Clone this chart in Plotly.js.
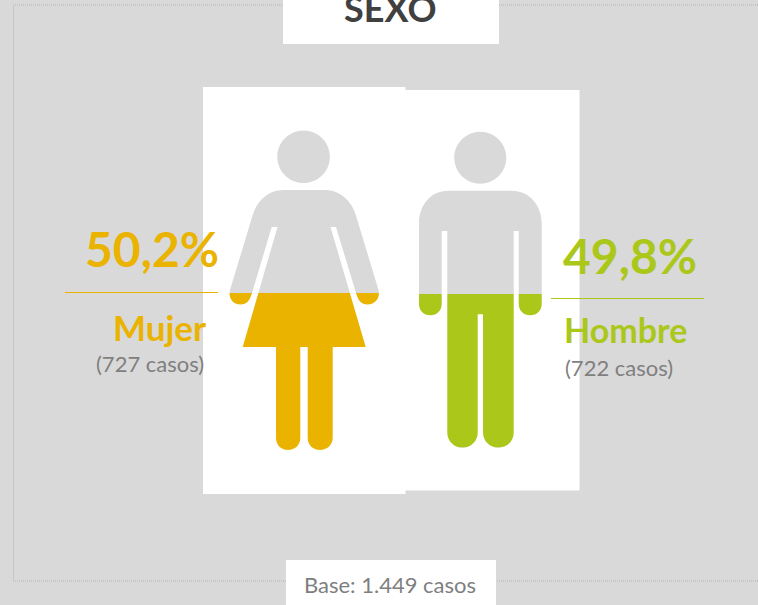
<!DOCTYPE html>
<html>
<head>
<meta charset="utf-8">
<script src="https://cdn.plot.ly/plotly-3.0.1.min.js"></script>
<style>html,body{margin:0;padding:0;background:#d9d9d9;overflow:hidden}</style>
</head>
<body>
<div id="chart" style="width:758px;height:605px"></div>
<script>
// ---- data ----
const categories = ['Mujer', 'Hombre'];
const percentages = [50.2, 49.8];
const cases = [727, 722];
const totalCases = 1449;
const chartTitle = 'SEXO';

// ---- style ----
const FONT = 'Lato, "Open Sans", sans-serif';
const GREY = '#d9d9d9';
const seriesColors = ['#eab300', '#aac71a'];
const textGrey = '#7f7f7f';

// ---- helpers ----
const W = 758, H = 605;
const pct = v => v.toFixed(1).replace('.', ',') + '%';
const thousands = n => String(n).replace(/\B(?=(\d{3})+$)/g, '.');
const yPaper = px => 1 - px / H;
function circle(cx, cy, r) {
  const k = 0.5523 * r;
  return `M ${cx - r} ${cy} C ${cx - r} ${cy - k} ${cx - k} ${cy - r} ${cx} ${cy - r} ` +
         `C ${cx + k} ${cy - r} ${cx + r} ${cy - k} ${cx + r} ${cy} ` +
         `C ${cx + r} ${cy + k} ${cx + k} ${cy + r} ${cx} ${cy + r} ` +
         `C ${cx - k} ${cy + r} ${cx - r} ${cy + k} ${cx - r} ${cy} Z `;
}
const rect = (x0, y0, x1, y1) => `M ${x0} ${y0} L ${x1} ${y0} L ${x1} ${y1} L ${x0} ${y1} Z `;

// Pictogram silhouettes: holes in the white panels, the value bars show through them
const womanOutline =
  'M 283 190 L 325 190 C 339 190 351 200 355.5 214 L 378.5 290 C 380.5 298 375 304.5 367.5 304.5 ' +
  'C 361 304.5 358 300 356 293 L 336 227 L 330.5 227 L 365.7 347 L 332.7 347 L 332.7 438 ' +
  'C 332.7 445 327 450 320 450 C 313 450 307.7 445 307.7 438 L 307.7 347 L 300.3 347 L 300.3 438 ' +
  'C 300.3 445 295 450 288 450 C 281 450 276 445 276 438 L 276 347 L 242.7 347 L 277.5 227 L 271.7 227 ' +
  'L 252 293 C 250 300 247 304.5 240.5 304.5 C 233 304.5 228 298 230 290 L 253 214 C 257.5 200 269 190 283 190 Z ';
const manOutline =
  'M 448 190.7 L 512 190.7 C 529 190.7 541.7 205 541.7 223 L 541.7 304 C 541.7 310.5 537 315.3 530.2 315.3 ' +
  'C 523.5 315.3 518.7 310.5 518.7 304 L 518.7 231 L 513.7 231 L 513.7 432.7 C 513.7 441 507 447.7 498.3 447.7 ' +
  'C 490 447.7 483 441 483 432.7 L 483 314.3 L 477.7 314.3 L 477.7 432.7 C 477.7 441 471 447.7 462.5 447.7 ' +
  'C 454 447.7 447.3 441 447.3 432.7 L 447.3 231 L 441.7 231 L 441.7 304 C 441.7 310.5 437 315.3 430.3 315.3 ' +
  'C 423.5 315.3 419 310.5 419 304 L 419 223 C 419 205 431 190.7 448 190.7 Z ';

// ---- traces: each figure is filled to its share by a bar on its own 0-100 scale ----
const traces = [
  { type: 'bar', x: [categories[0]], y: [percentages[0]], width: 1, xaxis: 'x2', yaxis: 'y2',
    marker: { color: seriesColors[0], line: { width: 0 } }, hoverinfo: 'skip', showlegend: false },
  { type: 'bar', x: [categories[1]], y: [percentages[1]], width: 1, xaxis: 'x2', yaxis: 'y3',
    marker: { color: seriesColors[1], line: { width: 0 } }, hoverinfo: 'skip', showlegend: false }
];

const px = { xref: 'x', yref: 'y' };
const shapes = [
  // dotted frame (runs off the right edge)
  { ...px, type: 'path', path: `M 770 5 L 13.5 5 L 13.5 581 L 770 581`, fillcolor: 'rgba(0,0,0,0)',
    line: { color: '#b4b4b4', width: 1, dash: '1px,1px' }, layer: 'above' },
  // panels with silhouette holes
  { ...px, type: 'path', layer: 'above', fillcolor: '#fff', line: { width: 0 },
    path: rect(405, 90, 579.5, 490.5) + circle(480.3, 157.7, 26) + manOutline },
  { ...px, type: 'path', layer: 'above', fillcolor: '#fff', line: { width: 0 },
    path: rect(203, 87, 405.5, 494) + circle(303.6, 156.7, 26.3) + womanOutline },
  // title and base boxes
  { ...px, type: 'rect', x0: 283, x1: 499, y0: -2, y1: 44, fillcolor: '#fff', line: { width: 0 }, layer: 'above' },
  { ...px, type: 'rect', x0: 286, x1: 496, y0: 560, y1: 607, fillcolor: '#fff', line: { width: 0 }, layer: 'above' },
  // rules under the percentages
  { ...px, type: 'line', x0: 65, x1: 218, y0: 292.5, y1: 292.5, line: { color: seriesColors[0], width: 1 }, layer: 'above' },
  { ...px, type: 'line', x0: 551, x1: 704, y0: 298.5, y1: 298.5, line: { color: seriesColors[1], width: 1 }, layer: 'above' }
];

const note = (text, x, y, size, color, bold, anchor) => ({
  xref: 'x', yref: 'y', x, y, text: bold ? `<b>${text}</b>` : text, showarrow: false,
  xanchor: anchor || 'center', yanchor: 'middle',
  font: { family: FONT, size, color }
});

const annotations = [
  note(chartTitle, 390, 8, 36, '#404040', true),
  note(pct(percentages[0]), 221, 248, 48, seriesColors[0], true, 'right'),
  note(categories[0], 208, 327, 35, seriesColors[0], true, 'right'),
  note(`(${cases[0]} casos)`, 206, 363, 22, textGrey, false, 'right'),
  note(pct(percentages[1]), 561, 255, 48, seriesColors[1], true, 'left'),
  note(categories[1], 562, 329, 34, seriesColors[1], true, 'left'),
  note(`(${cases[1]} casos)`, 563, 367, 22, textGrey, false, 'left'),
  note(`Base: ${thousands(totalCases)} casos`, 390, 584, 22, textGrey, false)
];

const layout = {
  width: W, height: H,
  margin: { l: 0, r: 0, t: 0, b: 0 },
  paper_bgcolor: GREY, plot_bgcolor: 'rgba(0,0,0,0)',
  showlegend: false,
  barmode: 'overlay',
  xaxis: { range: [0, W], visible: false, fixedrange: true, domain: [0, 1] },
  yaxis: { range: [H, 0], visible: false, fixedrange: true, domain: [0, 1] },
  xaxis2: { type: 'category', categoryorder: 'array', categoryarray: categories, range: [-0.5, 1.5],
            domain: [216 / W, 569 / W], visible: false, fixedrange: true, anchor: 'y2' },
  yaxis2: { range: [0, 100], domain: [yPaper(450), yPaper(137.3)], visible: false, fixedrange: true, anchor: 'x2' },
  yaxis3: { range: [0, 100], domain: [yPaper(447.7), yPaper(139)], visible: false, fixedrange: true, anchor: 'x2' },
  shapes, annotations
};

Plotly.newPlot('chart', traces, layout, { displayModeBar: false, responsive: false });
</script>
</body>
</html>
